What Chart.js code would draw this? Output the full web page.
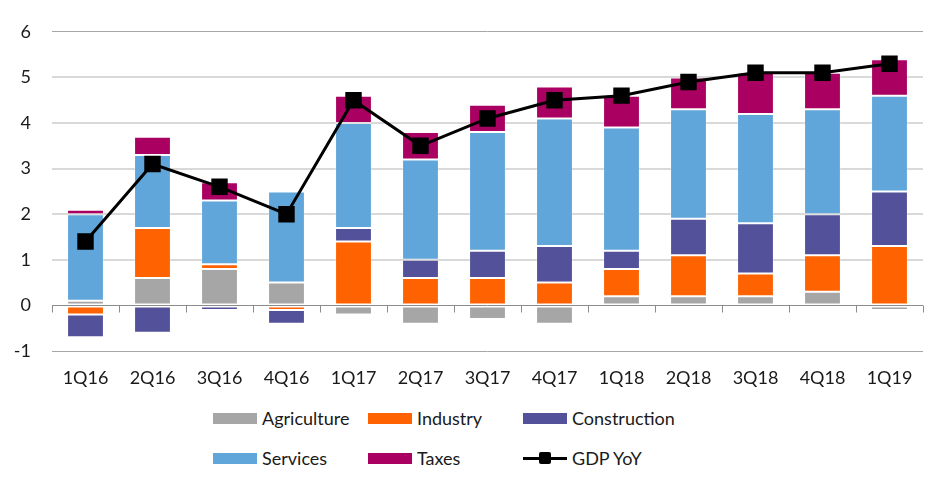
<!DOCTYPE html>
<html lang="en">
<head>
    <meta charset="UTF-8">
    <title>GDP YoY contributions</title>
    <script src="https://cdn.jsdelivr.net/npm/chart.js"></script>
    <style>
        body { margin: 0; background: #fff; font-family: Lato, "Liberation Sans", sans-serif; }
        #wrap { position: relative; width: 952px; height: 491px; }
        #chartBox { position: absolute; left: 0; top: 0; width: 952px; height: 400px; }
        .leg { position: absolute; display: flex; align-items: center; height: 24px; font-size: 18px; color: #1a1a1a; white-space: nowrap; }
        .leg .sw { width: 44px; height: 11px; margin-right: 5px; position: relative; }
        .leg .ln { width: 44px; height: 3px; background: #000; margin-right: 5px; position: relative; }
        .leg .ln::after { content: ''; position: absolute; left: 16px; top: -5px; width: 12px; height: 12px; background: #000; border-radius: 2px; }
    </style>
</head>
<body>
<div id="wrap">
    <div id="chartBox"><canvas id="myChart"></canvas></div>
    <div id="legend"></div>
</div>
<script>
    const categories = ['1Q16', '2Q16', '3Q16', '4Q16', '1Q17', '2Q17', '3Q17', '4Q17', '1Q18', '2Q18', '3Q18', '4Q18', '1Q19'];
    const agriculture = [0.1, 0.6, 0.8, 0.5, -0.2, -0.4, -0.3, -0.4, 0.2, 0.2, 0.2, 0.3, -0.1];
    const industry = [-0.2, 1.1, 0.1, -0.1, 1.4, 0.6, 0.6, 0.5, 0.6, 0.9, 0.5, 0.8, 1.3];
    const construction = [-0.5, -0.6, -0.1, -0.3, 0.3, 0.4, 0.6, 0.8, 0.4, 0.8, 1.1, 0.9, 1.2];
    const services = [1.9, 1.6, 1.4, 2.0, 2.3, 2.2, 2.6, 2.8, 2.7, 2.4, 2.4, 2.3, 2.1];
    const taxes = [0.1, 0.4, 0.4, 0.0, 0.6, 0.6, 0.6, 0.7, 0.7, 0.7, 0.9, 0.8, 0.8];
    const gdpYoY = [1.4, 3.1, 2.6, 2.0, 4.5, 3.5, 4.1, 4.5, 4.6, 4.9, 5.1, 5.1, 5.3];

    const FONT = 'Lato, "Liberation Sans", sans-serif';

    function barSet(label, data, color) {
        return {
            type: 'bar',
            label: label,
            data: data,
            backgroundColor: color,
            borderColor: 'rgba(255,255,255,0.25)',
            borderWidth: 1,
            borderSkipped: false,
            stack: 'parts',
            order: 1,
            barPercentage: 0.55,
            categoryPercentage: 1
        };
    }

    const datasets = [
        barSet('Agriculture', agriculture, '#a6a6a6'),
        barSet('Industry', industry, '#ff6200'),
        barSet('Construction', construction, '#525199'),
        barSet('Services', services, '#60a6da'),
        barSet('Taxes', taxes, '#aa0061'),
        {
            type: 'line',
            label: 'GDP YoY',
            data: gdpYoY,
            borderColor: '#000',
            backgroundColor: '#000',
            borderWidth: 3,
            pointStyle: 'rect',
            pointRadius: 9.5,
            pointHoverRadius: 9.5,
            stack: 'gdp',
            order: 0
        }
    ];

    // zero axis line with tick marks between the categories
    const zeroAxis = {
        id: 'zeroAxis',
        beforeDatasetsDraw(chart) {
            const { ctx, scales: { x, y }, chartArea } = chart;
            const y0 = Math.round(y.getPixelForValue(0)) + 0.5;
            ctx.save();
            ctx.strokeStyle = '#8c8c8c';
            ctx.lineWidth = 1;
            ctx.beginPath();
            ctx.moveTo(chartArea.left, y0);
            ctx.lineTo(chartArea.right, y0);
            for (let i = 0; i <= categories.length; i++) {
                const px = Math.round(x.getPixelForValue(i - 0.5)) + 0.5;
                ctx.moveTo(px, y0);
                ctx.lineTo(px, y0 + 7);
            }
            ctx.stroke();
            ctx.restore();
        }
    };

    const ctx = document.getElementById('myChart').getContext('2d');
    new Chart(ctx, {
        data: { labels: categories, datasets: datasets },
        plugins: [zeroAxis],
        options: {
            responsive: true,
            maintainAspectRatio: false,
            animation: false,
            layout: { padding: { top: 29, right: 29, left: 0, bottom: 0 } },
            plugins: {
                legend: { display: false },
                tooltip: { enabled: false }
            },
            scales: {
                x: {
                    stacked: true,
                    grid: { display: false, drawTicks: false },
                    border: { display: false },
                    ticks: { padding: 16, color: '#1a1a1a', font: { family: FONT, size: 18 } },
                    afterFit(scale) { scale.height = 49; }
                },
                y: {
                    stacked: true,
                    min: -1,
                    max: 6,
                    ticks: { stepSize: 1, padding: 21, color: '#1a1a1a', font: { family: FONT, size: 18 } },
                    grid: {
                        drawTicks: false,
                        color: c => c.tick.value === 0 ? 'rgba(0,0,0,0)' : (c.tick.value === 6 || c.tick.value === -1 ? '#a6a6a6' : '#d9d9d9'),
                        lineWidth: c => (c.tick.value === 6 || c.tick.value === -1) ? 1 : 2
                    },
                    border: { display: false },
                    afterFit(scale) { scale.width = 52; }
                }
            }
        }
    });

    // legend laid out in three columns like the original
    const legend = document.getElementById('legend');
    datasets.forEach((d, i) => {
        const item = document.createElement('div');
        item.className = 'leg';
        item.style.left = (213 + (i % 3) * 155) + 'px';
        item.style.top = (406 + Math.floor(i / 3) * 40) + 'px';
        const sw = document.createElement('span');
        if (d.type === 'line') {
            sw.className = 'ln';
        } else {
            sw.className = 'sw';
            sw.style.background = d.backgroundColor;
        }
        item.appendChild(sw);
        item.appendChild(document.createTextNode(d.label));
        legend.appendChild(item);
    });
</script>
</body>
</html>
